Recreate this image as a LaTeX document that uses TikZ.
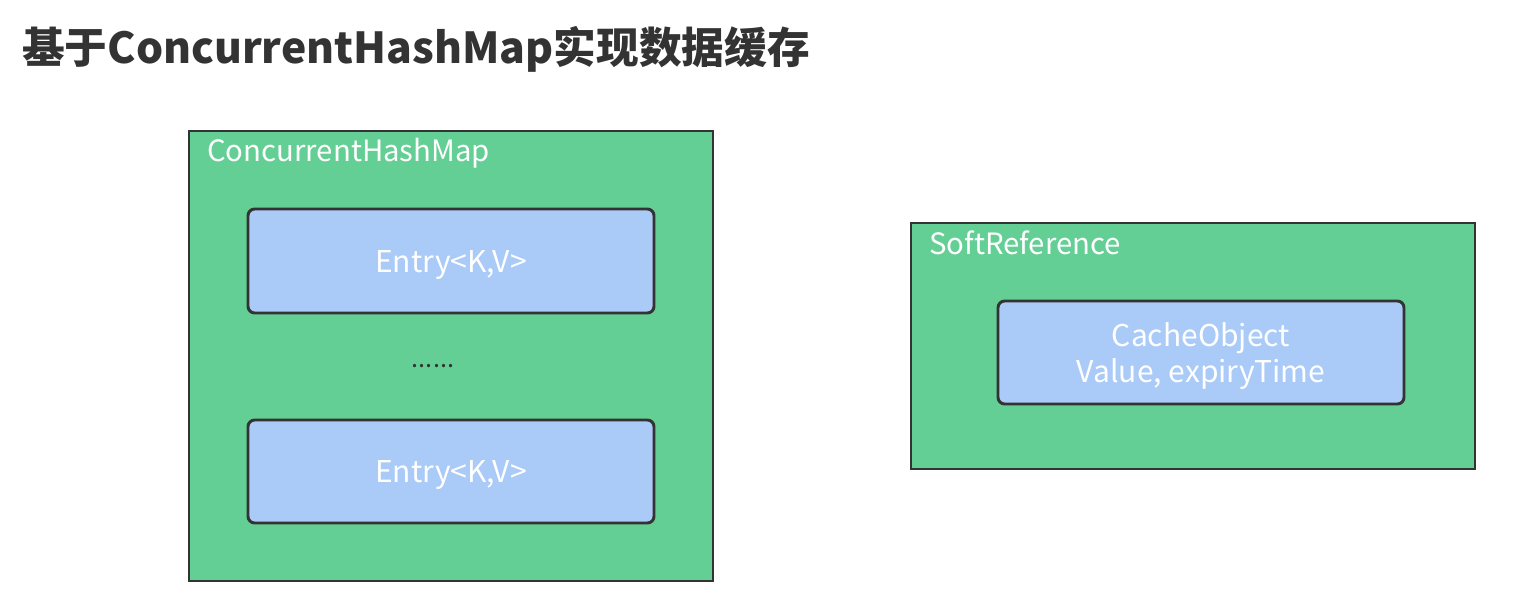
\documentclass[tikz,border=0pt]{standalone}
\usepackage{fontspec}
\setmainfont{Noto Sans CJK SC}
\usepackage{tikz}
\usetikzlibrary{positioning}

\definecolor{mapgreen}{RGB}{100,207,149}
\definecolor{entryblue}{RGB}{170,202,248}
\definecolor{edgegray}{RGB}{51,51,51}

\tikzset{
  outerbox/.style={draw=edgegray,line width=2pt,fill=mapgreen},
  entrybox/.style={draw=edgegray,line width=2.2pt,fill=entryblue,rounded corners=5pt},
  boxtitle/.style={text=white,font=\fontsize{22}{26}\selectfont,anchor=west,inner sep=0pt},
  entrytext/.style={text=white,font=\fontsize{22.5}{27}\selectfont,align=center,inner sep=0pt}
}

\begin{document}
\begin{tikzpicture}[x=0.75pt,y=-0.75pt]
\useasboundingbox (0,0) rectangle (1533,615);
% title
\node[anchor=west,inner sep=0pt,text=edgegray,font=\fontsize{32}{36}\selectfont\bfseries] (title) at (22,49) {基于ConcurrentHashMap实现数据缓存};
% ConcurrentHashMap
\draw[outerbox] (189,131) rectangle (713,581);
\node[boxtitle] (maplabel) at (207,153) {ConcurrentHashMap};
\draw[entrybox] (248,209) rectangle (654,313);
\node[entrytext] (entrya) at (451,265) {Entry<K,V>};
\node[inner sep=0pt,text=edgegray,font=\fontsize{19}{22}\selectfont] (dots) at (433,366) {......};
\draw[entrybox] (248,420) rectangle (654,523);
\node[entrytext] (entryb) at (451,475) {Entry<K,V>};
% SoftReference
\draw[outerbox] (911,223) rectangle (1475,469);
\node[boxtitle] (reflabel) at (929,243) {SoftReference};
\draw[entrybox] (998,301) rectangle (1404,404);
\node[entrytext] (cacheobj) at (1201,356) {CacheObject\\Value, expiryTime};
\end{tikzpicture}
\end{document}
